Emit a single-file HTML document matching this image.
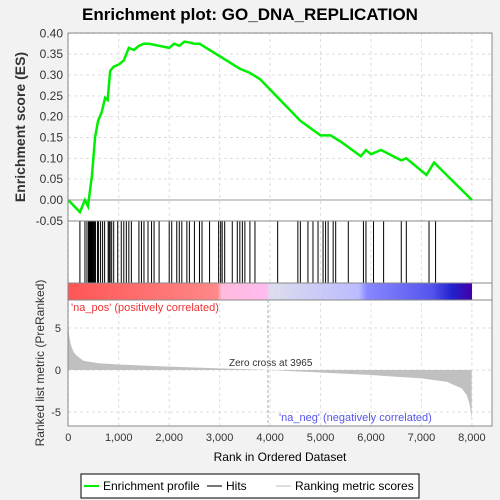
<!DOCTYPE html>
<html><head><meta charset="utf-8"><style>
body{margin:0;background:#f2f2f2;font-family:"Liberation Sans",sans-serif}
svg{display:block}
</style></head><body>
<svg id="c" width="500" height="500" xmlns="http://www.w3.org/2000/svg">
<text x="250" y="20" text-anchor="middle" font-size="17" font-weight="bold" fill="#000">Enrichment plot: GO_DNA_REPLICATION</text>
<rect x="68" y="33" width="424" height="393" fill="#fff"/>
<defs><linearGradient id="band" x1="0" x2="1">
<stop offset="0" stop-color="#f55"/><stop offset="0.37" stop-color="#f88"/><stop offset="0.38" stop-color="#fbd"/><stop offset="0.49" stop-color="#fbe"/><stop offset="0.5" stop-color="#dde"/><stop offset="0.72" stop-color="#bbf"/><stop offset="0.74" stop-color="#88f"/><stop offset="0.9" stop-color="#55e"/><stop offset="0.95" stop-color="#22c"/><stop offset="1" stop-color="#40a"/>
</linearGradient></defs>
<g id="grid"></g>
<rect x="68" y="283" width="404" height="17" fill="url(#band)"/>
<g id="hits"></g>
<g id="metric"></g>
<path id="es" fill="none" stroke="#00ee00" stroke-width="2.5"/>
<g id="axes"></g>
<rect x="68" y="33" width="424" height="393" fill="none" stroke="#888"/>
<line x1="68" y1="221" x2="492" y2="221" stroke="#888"/><line x1="68" y1="283" x2="492" y2="283" stroke="#888"/><line x1="68" y1="300" x2="492" y2="300" stroke="#888"/>
<text x="71" y="311" font-size="11" fill="#e33">'na_pos' (positively correlated)</text>
<text x="279" y="421" font-size="11" fill="#55e">'na_neg' (negatively correlated)</text>
<text x="229" y="366" font-size="10" fill="#333">Zero cross at 3965</text>
<line x1="268" y1="300" x2="268" y2="426" stroke="#aaa" stroke-dasharray="3,2"/>
<text transform="translate(25,127) rotate(-90)" text-anchor="middle" font-size="14" font-weight="bold" fill="#333">Enrichment score (ES)</text>
<text transform="translate(44,363) rotate(-90)" text-anchor="middle" font-size="12" fill="#333">Ranked list metric (PreRanked)</text>
<text x="280" y="461" text-anchor="middle" font-size="12" fill="#000">Rank in Ordered Dataset</text>
<g>
<rect x="81" y="474" width="338" height="24" fill="#fff" stroke="#000"/>
<line x1="84" y1="486" x2="99" y2="486" stroke="#00ee00" stroke-width="2"/>
<text x="103" y="490" font-size="12">Enrichment profile</text>
<line x1="207" y1="486" x2="222" y2="486" stroke="#777" stroke-width="2"/>
<text x="226" y="490" font-size="12">Hits</text>
<line x1="276" y1="486" x2="291" y2="486" stroke="#ddd" stroke-width="2"/>
<text x="295" y="490" font-size="12">Ranking metric scores</text>
</g>
</svg>
<script>
const esRanks=[0,230,330,390,470,530,590,660,730,780,830,900,1000,1100,1200,1300,1400,1500,1600,1800,2000,2100,2200,2300,2400,2500,2600,2800,3000,3200,3400,3600,3800,4200,4600,5000,5200,5400,5800,5900,6000,6200,6600,6700,7100,7250,8000];
const esValues=[0,-0.029,0,-0.015,0.06,0.15,0.19,0.21,0.245,0.24,0.31,0.32,0.325,0.335,0.365,0.36,0.37,0.375,0.375,0.37,0.365,0.375,0.37,0.38,0.378,0.375,0.375,0.36,0.345,0.33,0.315,0.305,0.29,0.24,0.19,0.155,0.155,0.14,0.105,0.12,0.11,0.12,0.095,0.10,0.06,0.09,0.0];
const hitRanks=[230,330,370,400,420,440,460,480,500,520,540,580,600,640,680,720,790,810,830,860,900,980,1050,1100,1150,1200,1250,1400,1450,1500,1580,1650,1700,1800,2000,2050,2150,2200,2250,2350,2400,2500,2600,2650,2800,2980,3020,3050,3100,3250,3350,3400,3450,3500,3600,3700,4150,4550,4600,4750,4850,4950,5050,5100,5150,5250,5300,5550,5850,5900,6050,6250,6600,6700,7150,7280];
const metricRanks=[0,20,50,100,150,300,600,1000,2000,3000,3965,5000,6000,7000,7500,7800,7900,7950,7980,7995];
const metricValues=[5.2,4,3,2.2,1.8,1.1,0.8,0.65,0.4,0.2,0,-0.3,-0.6,-1.0,-1.4,-2.2,-3,-4,-5,-6];
const esTicks=[-0.05,0,0.05,0.1,0.15,0.2,0.25,0.3,0.35,0.4];
const metricTicks=[5,0,-5];
const xTicks=[0,1000,2000,3000,4000,5000,6000,7000,8000];
const NS="http://www.w3.org/2000/svg";
const X=r=>68.3+r*0.05045, Y=v=>200-v*416.7, M=v=>370-v*8.4;
function mk(tag,attrs,parent,txt){const e=document.createElementNS(NS,tag);for(const k in attrs)e.setAttribute(k,attrs[k]);if(txt!==undefined)e.textContent=txt;document.getElementById(parent).appendChild(e);return e;}
esTicks.forEach(t=>{
 const g=mk('line',{x1:68,x2:492,y1:Y(t),y2:Y(t),stroke:t===0?'#999':'#ddd','stroke-dasharray':t===0?'':'3,3'},'grid');
 
 
 const l=mk('text',{x:63,y:Y(t)+4,'text-anchor':'end','font-size':12,fill:'#333'},'axes',t.toFixed(2));
 
 
});
metricTicks.forEach(t=>{
 const g=mk('line',{x1:68,x2:492,y1:M(t),y2:M(t),stroke:'#ddd','stroke-dasharray':'3,3'},'grid');
 
 
 const l=mk('text',{x:61,y:M(t)+4,'text-anchor':'end','font-size':11,fill:'#333'},'axes',String(t));
 
 
});
xTicks.forEach(t=>{
 const g=mk('line',{x1:X(t),x2:X(t),y1:33,y2:426,stroke:'#ddd','stroke-dasharray':'3,3'},'grid');
 
 
 const l=mk('text',{x:X(t),y:441,'text-anchor':'middle','font-size':11,fill:'#333'},'axes',t.toLocaleString('en-US'));
 
 
});
hitRanks.forEach(r=>{
 const h=mk('line',{x1:X(r),x2:X(r),y1:221,y2:283,stroke:'#000','stroke-width':1},'hits');
 
 
});
let d='M'+X(0)+','+M(0);
metricRanks.forEach((r,i)=>{d+=' L'+X(r)+','+M(metricValues[i]);});
d+=' L'+X(metricRanks[metricRanks.length-1])+','+M(0)+' Z';
const mp=mk('path',{d:d,fill:'#c0c0c0'},'metric');


document.getElementById('es').setAttribute('d',esRanks.map((r,i)=>(i?'L':'M')+X(r)+','+Y(esValues[i])).join(' '));
</script>
</body></html>
